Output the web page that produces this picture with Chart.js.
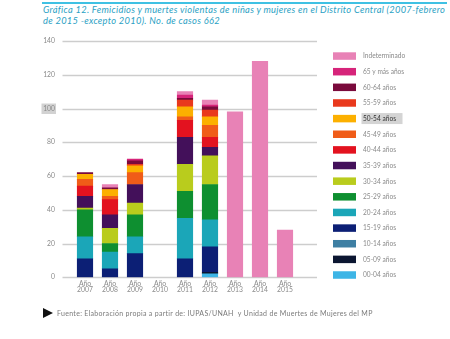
<!DOCTYPE html>
<html lang="es">
<head>
<meta charset="utf-8">
<title>Femicidios Distrito Central</title>
<script src="https://cdn.jsdelivr.net/npm/chart.js@4.4.1/dist/chart.umd.min.js"></script>
<style>
  html, body { margin: 0; padding: 0; background: #fff; }
  #wrap { position: relative; width: 450px; height: 339px; overflow: hidden; font-family: Lato, "Open Sans", sans-serif; }
  #rule { position: absolute; left: 42px; top: 2px; width: 405px; height: 2px; background: #3fc1e3; }
  #title { position: absolute; left: 43px; top: 5px; width: 410px; font-size: 9.3px; letter-spacing: 0.3px; line-height: 10.5px; font-style: italic; color: #2b9fc4; white-space: nowrap; }
  #chart { position: absolute; left: 0; top: 0; }
  #arrow { position: absolute; left: 43px; top: 308px; width: 0; height: 0; border-top: 5px solid transparent; border-bottom: 5px solid transparent; border-left: 10px solid #111; }
  #source { position: absolute; left: 57px; top: 308.5px; font-size: 7px; letter-spacing: 0.3px; color: #7a7a7a; white-space: nowrap; }
</style>
</head>
<body>
<div id="wrap">
  <div id="rule"></div>
  <div id="title">Gráfica 12. Femicidios y muertes violentas de niñas y mujeres en el Distrito Central (2007-febrero<br>de 2015 -excepto 2010). No. de casos 662</div>
  <canvas id="chart" width="450" height="339"></canvas>
  <div id="arrow"></div>
  <div id="source">Fuente: Elaboración propia a partir de: IUPAS/UNAH &nbsp;y Unidad de Muertes de Mujeres del MP</div>
</div>
<script>
// years on the x axis
const years = ['2007', '2008', '2009', '2010', '2011', '2012', '2013', '2014', '2015'];
const yTicks = [0, 20, 40, 60, 80, 100, 120, 140];

// age groups, stacked bottom -> top
const ageGroups = ['00-04 años', '05-09 años', '10-14 años', '15-19 años', '20-24 años', '25-29 años',
  '30-34 años', '35-39 años', '40-44 años', '45-49 años', '50-54 años', '55-59 años',
  '60-64 años', '65 y más años', 'Indeterminado'];

// cases per year, one array per age group (null = no cases)
const age00_04 = [null, null, null, null, null, 2, null, null, null];
const age05_09 = [null, null, null, null, null, 1, null, null, null];
const age10_14 = [null, null, null, null, null, null, null, null, null];
const age15_19 = [11, 5, 14, null, 11, 15, null, null, null];
const age20_24 = [13, 10, 10, null, 24, 16, null, null, null];
const age25_29 = [16, 5, 13, null, 16, 21, null, null, null];
const age30_34 = [1, 9, 7, null, 16, 17, null, null, null];
const age35_39 = [7, 8, 11, null, 16, 5, null, null, null];
const age40_44 = [6, 9, null, null, 10, 6, null, null, null];
const age45_49 = [4, 2, 7, null, 2, 7, null, null, null];
const age50_54 = [3, 4, 4, null, 6, 5, null, null, null];
const age55_59 = [null, null, 1, null, 4, 4, null, null, null];
const age60_64 = [1, 1, 2, null, 1, 2, null, null, null];
const age65plus = [null, null, 1, null, 2, 1, null, null, null];
const indeterminado = [null, 2, null, null, 2, 3, 98, 128, 28];

const seriesValues = [age00_04, age05_09, age10_14, age15_19, age20_24, age25_29, age30_34,
  age35_39, age40_44, age45_49, age50_54, age55_59, age60_64, age65plus, indeterminado];

const colors = ['#3db5e6', '#0b1631', '#3e7fa3', '#0c1f75', '#1ba6b8', '#0e8f30', '#b9cc1d',
  '#43105a', '#e3121f', '#f05c18', '#fcb000', '#e9391d', '#7a0a3c', '#d6247a', '#e882b6'];

const datasets = ageGroups.map((name, i) => ({
  label: name,
  data: seriesValues[i],
  backgroundColor: colors[i],
  borderWidth: 0,
  barThickness: 15.5
}));

// horizontal grid lines run wider than the bar area, plus the grey mark behind "100"
const backdrop = {
  id: 'backdrop',
  beforeDraw(chart) {
    const ctx = chart.ctx;
    const y = chart.scales.y;
    ctx.save();
    ctx.fillStyle = '#d2d2d2';
    const p100 = y.getPixelForValue(100);
    ctx.fillRect(41.5, p100 - 5, 14.5, 10.5);
    ctx.strokeStyle = '#cdcdcd';
    ctx.lineWidth = 1.3;
    yTicks.forEach(v => {
      const py = Math.round(y.getPixelForValue(v)) + 0.5;
      ctx.beginPath();
      ctx.moveTo(62.5, py);
      ctx.lineTo(317, py);
      ctx.stroke();
    });
    ctx.restore();
  }
};

// legend column on the right, Indeterminado on top
const sideLegend = {
  id: 'sideLegend',
  afterDraw(chart) {
    const ctx = chart.ctx;
    const items = chart.data.datasets.slice().reverse();
    ctx.save();
    ctx.font = '6.6px Lato, "Open Sans", sans-serif';
    ctx.textBaseline = 'middle';
    items.forEach((ds, k) => {
      const cy = 56 + k * 15.64;
      if (ds.label === '50-54 años') {
        ctx.fillStyle = '#d4d4d4';
        ctx.fillRect(361.5, cy - 5.5, 41, 11);
      }
      ctx.fillStyle = ds.backgroundColor;
      ctx.fillRect(333, cy - 3.7, 23, 7.5);
      ctx.fillStyle = ds.label === '50-54 años' ? '#333' : '#8a8a8a';
      ctx.fillText(ds.label, 363, cy + 0.3);
    });
    ctx.restore();
  }
};

new Chart(document.getElementById('chart'), {
  type: 'bar',
  data: {
    labels: years.map(y => ['Año', y]),
    datasets: datasets
  },
  options: {
    responsive: false,
    animation: false,
    layout: { padding: { top: 41, right: 152.5, bottom: 0, left: 0 } },
    plugins: {
      legend: { display: false },
      tooltip: { enabled: false }
    },
    scales: {
      x: {
        stacked: true,
        grid: { display: false, drawTicks: false },
        border: { display: false },
        ticks: {
          color: '#8a8a8a',
          padding: 3,
          maxRotation: 0,
          autoSkip: false,
          font: { family: 'Lato, "Open Sans", sans-serif', size: 6.8, lineHeight: 0.95 }
        },
        afterFit(scale) { scale.height = 61.7; }
      },
      y: {
        stacked: true,
        min: 0,
        max: 140,
        grid: { display: false, drawTicks: false },
        border: { display: false },
        ticks: {
          stepSize: 20,
          color: '#8a8a8a',
          padding: 17.5,
          font: { family: 'Lato, "Open Sans", sans-serif', size: 6.8 }
        },
        afterFit(scale) { scale.width = 72.5; }
      }
    }
  },
  plugins: [backdrop, sideLegend]
});
</script>
</body>
</html>
